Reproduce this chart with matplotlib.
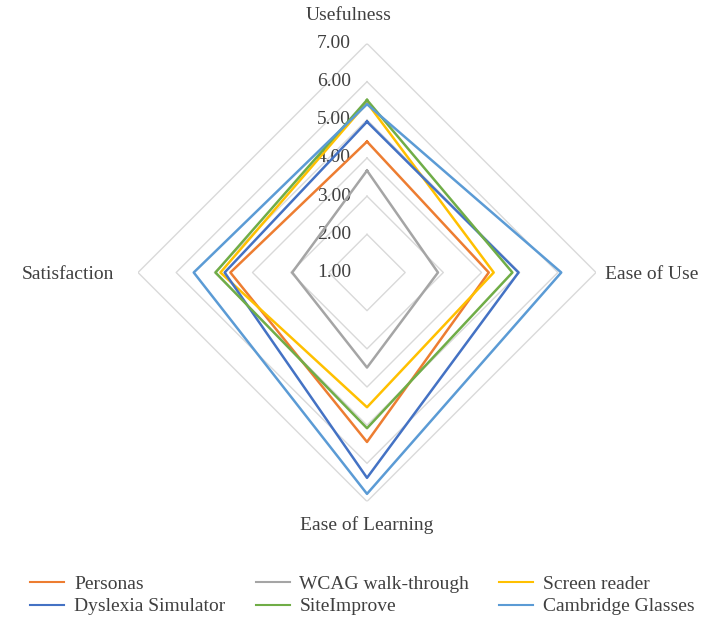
import numpy as np
import matplotlib
matplotlib.use("Agg")
import matplotlib.pyplot as plt
import matplotlib.transforms as mtransforms

plt.rcParams["font.family"] = ["Liberation Serif", "DejaVu Serif"]

categories = ["Usefulness", "Ease of Use", "Ease of Learning", "Satisfaction"]
series_names = ["Personas", "WCAG walk-through", "Screen reader",
                "Dyslexia Simulator", "SiteImprove", "Cambridge Glasses"]
personas = [4.43, 4.19, 5.44, 4.58]
wcag = [3.67, 2.86, 3.49, 2.96]
screen_reader = [5.45, 4.32, 4.53, 4.84]
dyslexia = [4.95, 4.97, 6.38, 4.73]
siteimprove = [5.52, 4.81, 5.08, 4.97]
cambridge = [5.41, 6.09, 6.80, 5.54]
tick_values = [1, 2, 3, 4, 5, 6, 7]
tick_labels = ["1.00", "2.00", "3.00", "4.00", "5.00", "6.00", "7.00"]

colors = ["#ED7D31", "#A5A5A5", "#FFC000", "#4472C4", "#70AD47", "#5B9BD5"]
all_series = [personas, wcag, screen_reader, dyslexia, siteimprove, cambridge]
txt_color = "#404040"

fig = plt.figure(figsize=(7.04, 6.22), dpi=100)
ax = fig.add_axes([(367 - 229) / 704, (622 - 272.5 - 229) / 622, 458 / 704, 458 / 622],
                  projection="polar")
ax.set_theta_zero_location("N")
ax.set_theta_direction(-1)
ax.set_rlim(1, 7)
ax.grid(False)
ax.spines["polar"].set_visible(False)
ax.set_xticks([])
ax.set_yticks([])

angles = np.arange(len(categories)) * 2 * np.pi / len(categories)
closed = np.append(angles, angles[0])

# diamond gridlines
for v in tick_values[1:]:
    ax.plot(closed, [v] * (len(categories) + 1), color="#D9D9D9", linewidth=1.0, zorder=1)

# radial tick labels, left of the vertical axis
offset = mtransforms.ScaledTranslation(-16 / 100, 0, fig.dpi_scale_trans)
for v, lab in zip(tick_values, tick_labels):
    ax.text(0, v, lab, transform=ax.transData + offset, ha="right", va="center",
            fontsize=14, color=txt_color)

lines = []
for name, vals, c in zip(series_names, all_series, colors):
    ln, = ax.plot(closed, list(vals) + [vals[0]], color=c, linewidth=1.8, label=name, zorder=3)
    lines.append(ln)

# category labels (offsets in pixels from the outer vertex)
label_offsets = [(-18, 28, "center"), (9, -2, "left"), (0, -24, "center"), (-24, -2, "right")]
for ang, cat, (dx, dy, ha) in zip(angles, categories, label_offsets):
    ax.annotate(cat, xy=(ang, 7), xytext=(dx, dy), textcoords="offset pixels",
                ha=ha, va="center", fontsize=14, color=txt_color, annotation_clip=False)

# legend filled row by row
order = [0, 3, 1, 4, 2, 5]
leg = fig.legend([lines[i] for i in order], [series_names[i] for i in order],
                 loc="lower center", bbox_to_anchor=(0.515, -0.008), ncol=3, frameon=False,
                 fontsize=14, handlelength=1.75, handletextpad=0.5, columnspacing=1.55,
                 labelspacing=0.25, borderaxespad=0.2)
for t in leg.get_texts():
    t.set_color(txt_color)
for h in leg.get_lines():
    h.set_linewidth(1.5)

fig.savefig("out.png", dpi=100)
